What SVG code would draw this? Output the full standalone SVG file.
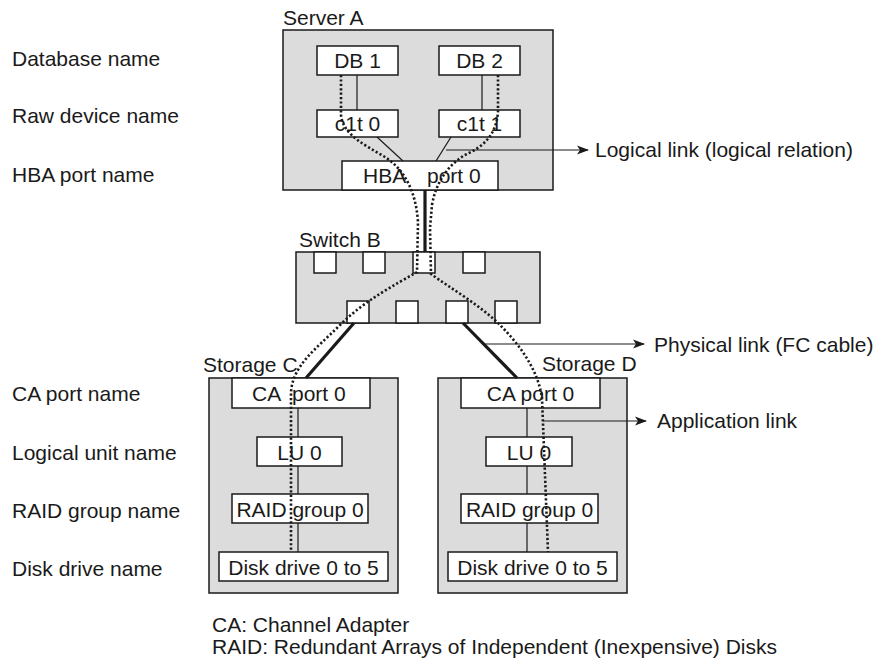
<svg xmlns="http://www.w3.org/2000/svg" width="877" height="661" viewBox="0 0 877 661">
<defs>
<marker id="arr" markerWidth="12" markerHeight="10" refX="11" refY="5" orient="auto" markerUnits="userSpaceOnUse">
<path d="M0,0.5 L12,5 L0,9.5 L3,5 Z" fill="#1a1a1a"/>
</marker>
<style>
text{font-family:"Liberation Sans",Arial,sans-serif;font-size:21px;fill:#1a1a1a}
.c{text-anchor:middle}
.cont{fill:#dcdcdc;stroke:#1a1a1a;stroke-width:1.5}
.box{fill:#fff;stroke:#1a1a1a;stroke-width:1.5}
.thin{stroke:#1a1a1a;stroke-width:1.2;fill:none}
.thick{stroke:#1a1a1a;stroke-width:3.2;fill:none}
.dot{stroke:#1a1a1a;stroke-width:2.6;fill:none;stroke-dasharray:2.2 2.2}
.ptr{stroke:#1a1a1a;stroke-width:1.2;fill:none;marker-end:url(#arr)}
</style>
</defs>
<rect width="877" height="661" fill="#fff"/>
<g id="row-labels">
<text x="12" y="66">Database name</text>
<text x="12" y="123">Raw device name</text>
<text x="12" y="182">HBA port name</text>
<text x="12" y="401">CA port name</text>
<text x="12" y="460">Logical unit name</text>
<text x="12" y="518">RAID group name</text>
<text x="12" y="576">Disk drive name</text>
</g>
<g id="server-a">
<text x="283" y="25">Server A</text>
<rect class="cont" x="283" y="30" width="270" height="160"/>
</g>
<g id="db1"><rect class="box" x="317" y="46" width="81" height="29"/><text class="c" x="357.5" y="68">DB 1</text></g>
<g id="db2"><rect class="box" x="439" y="46" width="81" height="29"/><text class="c" x="479.5" y="68">DB 2</text></g>
<g id="c1t0"><rect class="box" x="317" y="110" width="81" height="27"/><text class="c" x="357.5" y="131">c1t 0</text></g>
<g id="c1t1"><rect class="box" x="439" y="110" width="81" height="27"/><text class="c" x="479.5" y="131">c1t 1</text></g>
<g id="hba"><rect class="box" x="342" y="161" width="156" height="29"/><text y="183"><tspan x="363">HBA</tspan><tspan x="427">port 0</tspan></text></g>
<g id="switch-b">
<text x="299" y="247">Switch B</text>
<rect class="cont" x="296" y="252" width="244" height="71"/>
<rect class="box" x="314" y="252" width="22" height="21"/>
<rect class="box" x="363" y="252" width="22" height="21"/>
<rect class="box" x="413" y="252" width="22" height="21"/>
<rect class="box" x="463" y="252" width="22" height="21"/>
<rect class="box" x="347" y="301" width="22" height="22"/>
<rect class="box" x="396" y="301" width="22" height="22"/>
<rect class="box" x="446" y="301" width="22" height="22"/>
<rect class="box" x="495" y="301" width="22" height="22"/>
</g>
<g id="storage-c">
<text x="203" y="372">Storage C</text>
<rect class="cont" x="209" y="378" width="189" height="215"/>
</g>
<g id="c-ca"><rect class="box" x="232" y="378" width="138" height="30"/><text y="401"><tspan x="252">CA</tspan><tspan x="292">port 0</tspan></text></g>
<g id="c-lu"><rect class="box" x="257" y="437" width="85" height="29"/><text class="c" x="299.5" y="460">LU 0</text></g>
<g id="c-raid"><rect class="box" x="232" y="494" width="136" height="29"/><text class="c" x="300" y="517">RAID group 0</text></g>
<g id="c-disk"><rect class="box" x="219" y="552" width="169" height="29"/><text class="c" x="303.5" y="575">Disk drive 0 to 5</text></g>
<g id="storage-d">
<text x="542" y="371">Storage D</text>
<rect class="cont" x="438" y="378" width="189" height="215"/>
</g>
<g id="d-ca"><rect class="box" x="461" y="378" width="139" height="30"/><text class="c" x="530.5" y="401">CA port 0</text></g>
<g id="d-lu"><rect class="box" x="486" y="437" width="86" height="29"/><text class="c" x="529" y="460">LU 0</text></g>
<g id="d-raid"><rect class="box" x="461" y="494" width="137" height="29"/><text class="c" x="529.5" y="517">RAID group 0</text></g>
<g id="d-disk"><rect class="box" x="448" y="552" width="169" height="29"/><text class="c" x="532.5" y="575">Disk drive 0 to 5</text></g>
<g id="connectors">
<line class="thin" x1="357" y1="75" x2="357" y2="110"/>
<line class="thin" x1="482" y1="75" x2="482" y2="110"/>
<line class="thin" x1="377" y1="137" x2="403" y2="161"/>
<line class="thin" x1="451" y1="137" x2="436" y2="161"/>
<line class="thin" x1="298" y1="408" x2="298" y2="437"/>
<line class="thin" x1="298" y1="466" x2="298" y2="494"/>
<line class="thin" x1="298" y1="523" x2="298" y2="552"/>
<line class="thin" x1="527" y1="408" x2="527" y2="437"/>
<line class="thin" x1="527" y1="466" x2="527" y2="494"/>
<line class="thin" x1="527" y1="523" x2="527" y2="552"/>
<line class="thick" x1="425" y1="190" x2="425" y2="252"/>
<line class="thick" x1="354" y1="323" x2="306" y2="378"/>
<line class="thick" x1="463" y1="323" x2="517" y2="378"/>
<path class="dot" d="M341,75 L341,115 C343,135 365,145 385,157 C405,170 416,192 418,222 L417,272 C395,285 365,300 340,325 C315,350 293,365 291,392 L291,552"/>
<path class="dot" d="M498,75 L498,112 C496,138 480,148 465,155 C448,165 436,182 432,205 L430,228 L431,274 C450,288 480,305 500,325 C520,345 538,370 542,398 L548,552"/>
<line class="ptr" x1="446" y1="150" x2="588" y2="150"/>
<line class="ptr" x1="484" y1="344" x2="644" y2="344"/>
<line class="ptr" x1="543" y1="421" x2="646" y2="421"/>
</g>
<g id="legend-labels">
<text x="595" y="157">Logical link (logical relation)</text>
<text x="654" y="352">Physical link (FC cable)</text>
<text x="657" y="428">Application link</text>
</g>
<g id="footnotes">
<text x="212" y="632">CA: Channel Adapter</text>
<text x="212" y="654">RAID: Redundant Arrays of Independent (Inexpensive) Disks</text>
</g>
</svg>
